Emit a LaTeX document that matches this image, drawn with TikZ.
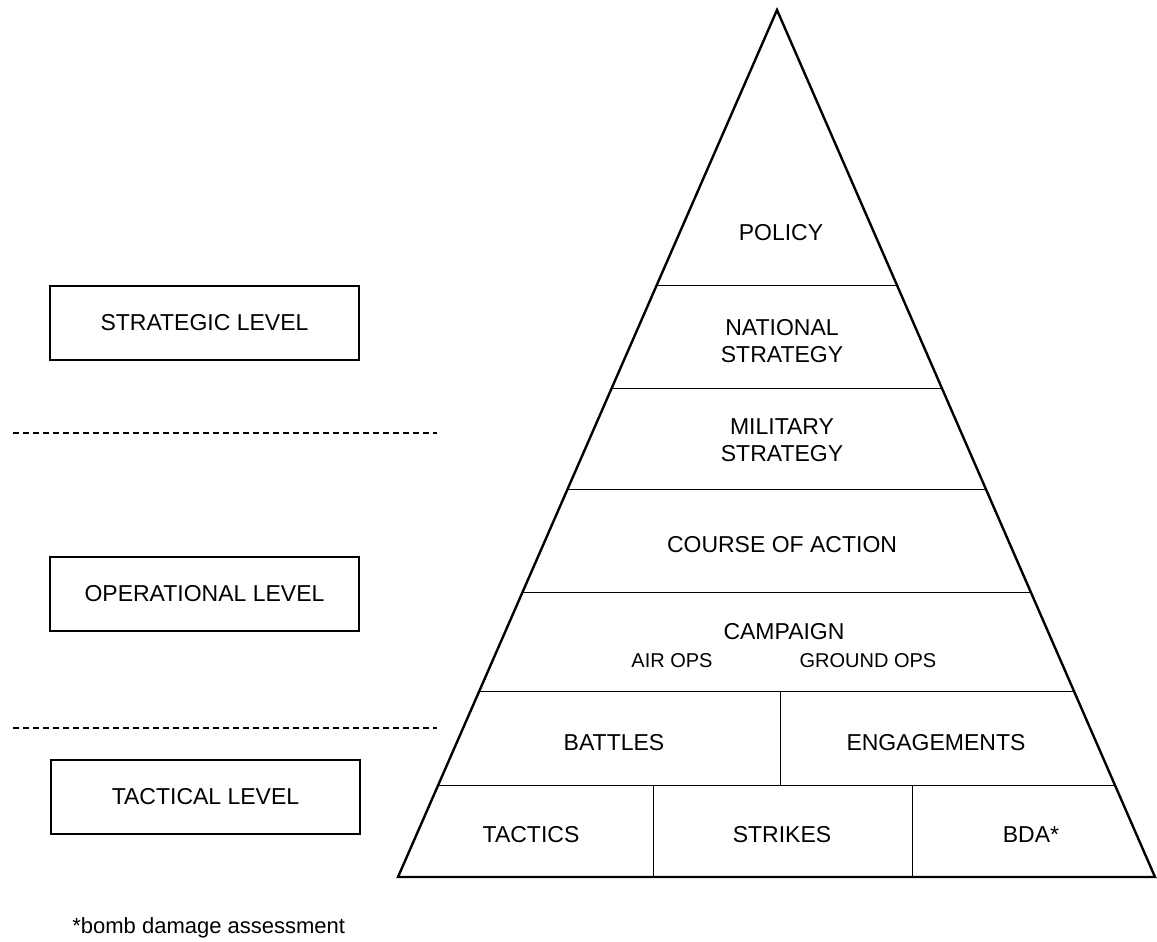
\documentclass[tikz,border=0pt]{standalone}
\usepackage{fontspec}
\setmainfont{Liberation Sans}
\usetikzlibrary{calc}

\tikzset{
  rowline/.style={line width=0.5pt},
  levelbox/.style={draw,line width=1pt,minimum width=154.5pt,minimum height=37pt,inner sep=0pt,font=\fontsize{11.5}{13}\selectfont},
  lbl/.style={font=\fontsize{11.5}{13.5}\selectfont,align=center,inner sep=0pt},
  sublbl/.style={font=\fontsize{10}{12}\selectfont,inner sep=0pt},
  levelsep/.style={line width=0.9pt,dash pattern=on 3pt off 2pt}
}

\begin{document}
\begin{tikzpicture}[x=0.5pt,y=-0.5pt]
\useasboundingbox (0,0) rectangle (1157,942);

% pyramid
\coordinate (top) at (777,10);
\coordinate (bl) at (398,877);
\coordinate (br) at (1155,877);
\draw[line width=1.2pt,line join=miter] (top) -- (bl) -- (br) -- cycle;

\draw[rowline] ($(top)!0.3172!(bl)$) -- ($(top)!0.3172!(br)$);%policy
\draw[rowline] ($(top)!0.4360!(bl)$) -- ($(top)!0.4360!(br)$);%national
\draw[rowline] ($(top)!0.5525!(bl)$) -- ($(top)!0.5525!(br)$);%military
\draw[rowline] ($(top)!0.6713!(bl)$) -- ($(top)!0.6713!(br)$);%course
\draw[rowline] ($(top)!0.7866!(bl)$) -- ($(top)!0.7866!(br)$);%campaign
\draw[rowline] ($(top)!0.8950!(bl)$) -- ($(top)!0.8950!(br)$);%battles
\draw[rowline] (780,692) -- (780,786);
\draw[rowline] (653,786) -- (653,877);
\draw[rowline] (912,786) -- (912,877);

\node[lbl] (policy) at (781,233) {POLICY};
\node[lbl] (natstrat) at (782,341) {NATIONAL\\STRATEGY};
\node[lbl] (milstrat) at (782,440) {MILITARY\\STRATEGY};
\node[lbl] (coa) at (782,545) {COURSE OF ACTION};
\node[lbl] (campaign) at (784,632) {CAMPAIGN};
\node[sublbl] (airops) at (672,661) {AIR OPS};
\node[sublbl] (groundops) at (868,661) {GROUND OPS};
\node[lbl] (battles) at (614,743) {BATTLES};
\node[lbl] (engage) at (936,743) {ENGAGEMENTS};
\node[lbl] (tactics) at (531,835) {TACTICS};
\node[lbl] (strikes) at (782,835) {STRIKES};
\node[lbl] (bda) at (1031,835) {BDA*};

% levels
\node[levelbox] (strategic) at (204.5,323) {\raisebox{-2pt}{STRATEGIC LEVEL}};
\node[levelbox] (operational) at (204.5,593.5) {\raisebox{-1.5pt}{OPERATIONAL LEVEL}};
\node[levelbox] (tactical) at (205.5,797) {\raisebox{-2pt}{TACTICAL LEVEL}};

\coordinate (sep1l) at (13,433);
\coordinate (sep1r) at (437,433);
\coordinate (sep2l) at (13,728);
\coordinate (sep2r) at (437,728);
\draw[levelsep] (sep1l) -- (sep1r);
\draw[levelsep] (sep2l) -- (sep2r);

\node[anchor=west,inner sep=0pt,font=\fontsize{11}{13}\selectfont] (bdanote) at (72,928) {*bomb damage assessment};
\end{tikzpicture}
\end{document}
